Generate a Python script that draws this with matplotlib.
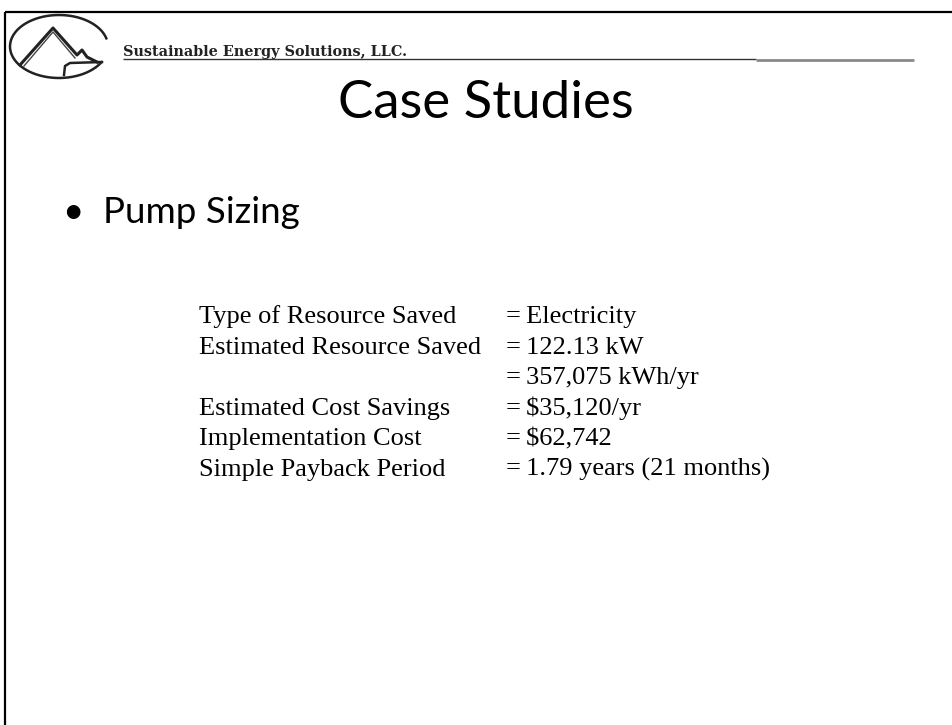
import numpy as np
import matplotlib
matplotlib.use("Agg")
import matplotlib.pyplot as plt


# Slide content
COMPANY = "Sustainable Energy Solutions, LLC."
TITLE = "Case Studies"
BULLET = "Pump Sizing"

row_labels = [
    "Type of Resource Saved",
    "Estimated Resource Saved",
    "",
    "Estimated Cost Savings",
    "Implementation Cost",
    "Simple Payback Period",
]
row_values = [
    "Electricity",
    "122.13 kW",
    "357,075 kWh/yr",
    "$35,120/yr",
    "$62,742",
    "1.79 years (21 months)",
]


W, H = 952, 725
fig = plt.figure(figsize=(W / 100, H / 100), dpi=100)
ax = fig.add_axes([0, 0, 1, 1])
ax.set_xlim(0, W)
ax.set_ylim(H, 0)
ax.axis("off")

# Slide frame (top + left edges)
ax.plot([5, W], [12, 12], color="black", linewidth=1.6, solid_capstyle="butt")
ax.plot([5, 5], [12, H], color="black", linewidth=1.6, solid_capstyle="butt")

# Logo: open ellipse with a mountain inside
t = np.radians(np.linspace(15, 330, 200))
ax.plot(59 + 49 * np.cos(t), 46.5 - 31.5 * np.sin(t), color="#222222", linewidth=1.8)
ax.plot([20, 53, 77, 82, 87, 97], [65, 28, 55, 50, 57, 62], color="#222222", linewidth=2.2)
ax.plot([24, 53, 75], [66, 32, 58], color="#444444", linewidth=1.0)
ax.plot([64, 65, 70, 102], [75, 66, 63, 62], color="#222222", linewidth=1.8)

# Company name and header rule
ax.text(123, 56, COMPANY, fontsize=10.4, fontweight="bold", family="DejaVu Serif",
        color="#222222", va="baseline", ha="left")
ax.plot([123, 756], [59, 59], color="#333333", linewidth=1.0, solid_capstyle="butt")
ax.plot([756, 914], [59.5, 59.5], color="#8a8a8a", linewidth=2.0, solid_capstyle="butt")

# Title
ax.text(486, 118, TITLE, fontsize=38, family="Lato", color="black",
        va="baseline", ha="center")

# Bullet
ax.text(73, 223, "\u2022", fontsize=26.5, family="Lato", color="black",
        va="baseline", ha="center")
ax.text(103, 223, BULLET, fontsize=26.5, family="Lato", color="black",
        va="baseline", ha="left")

# Savings table
y0, dy = 323, 30.5
for i, (lab, val) in enumerate(zip(row_labels, row_values)):
    y = y0 + i * dy
    if lab:
        ax.text(199, y, lab, fontsize=19, family="Liberation Serif",
                color="black", va="baseline", ha="left")
    ax.text(506, y, "=\u2009" + val, fontsize=19, family="Liberation Serif",
            color="black", va="baseline", ha="left")

fig.savefig("out.png", dpi=100, facecolor="white")
